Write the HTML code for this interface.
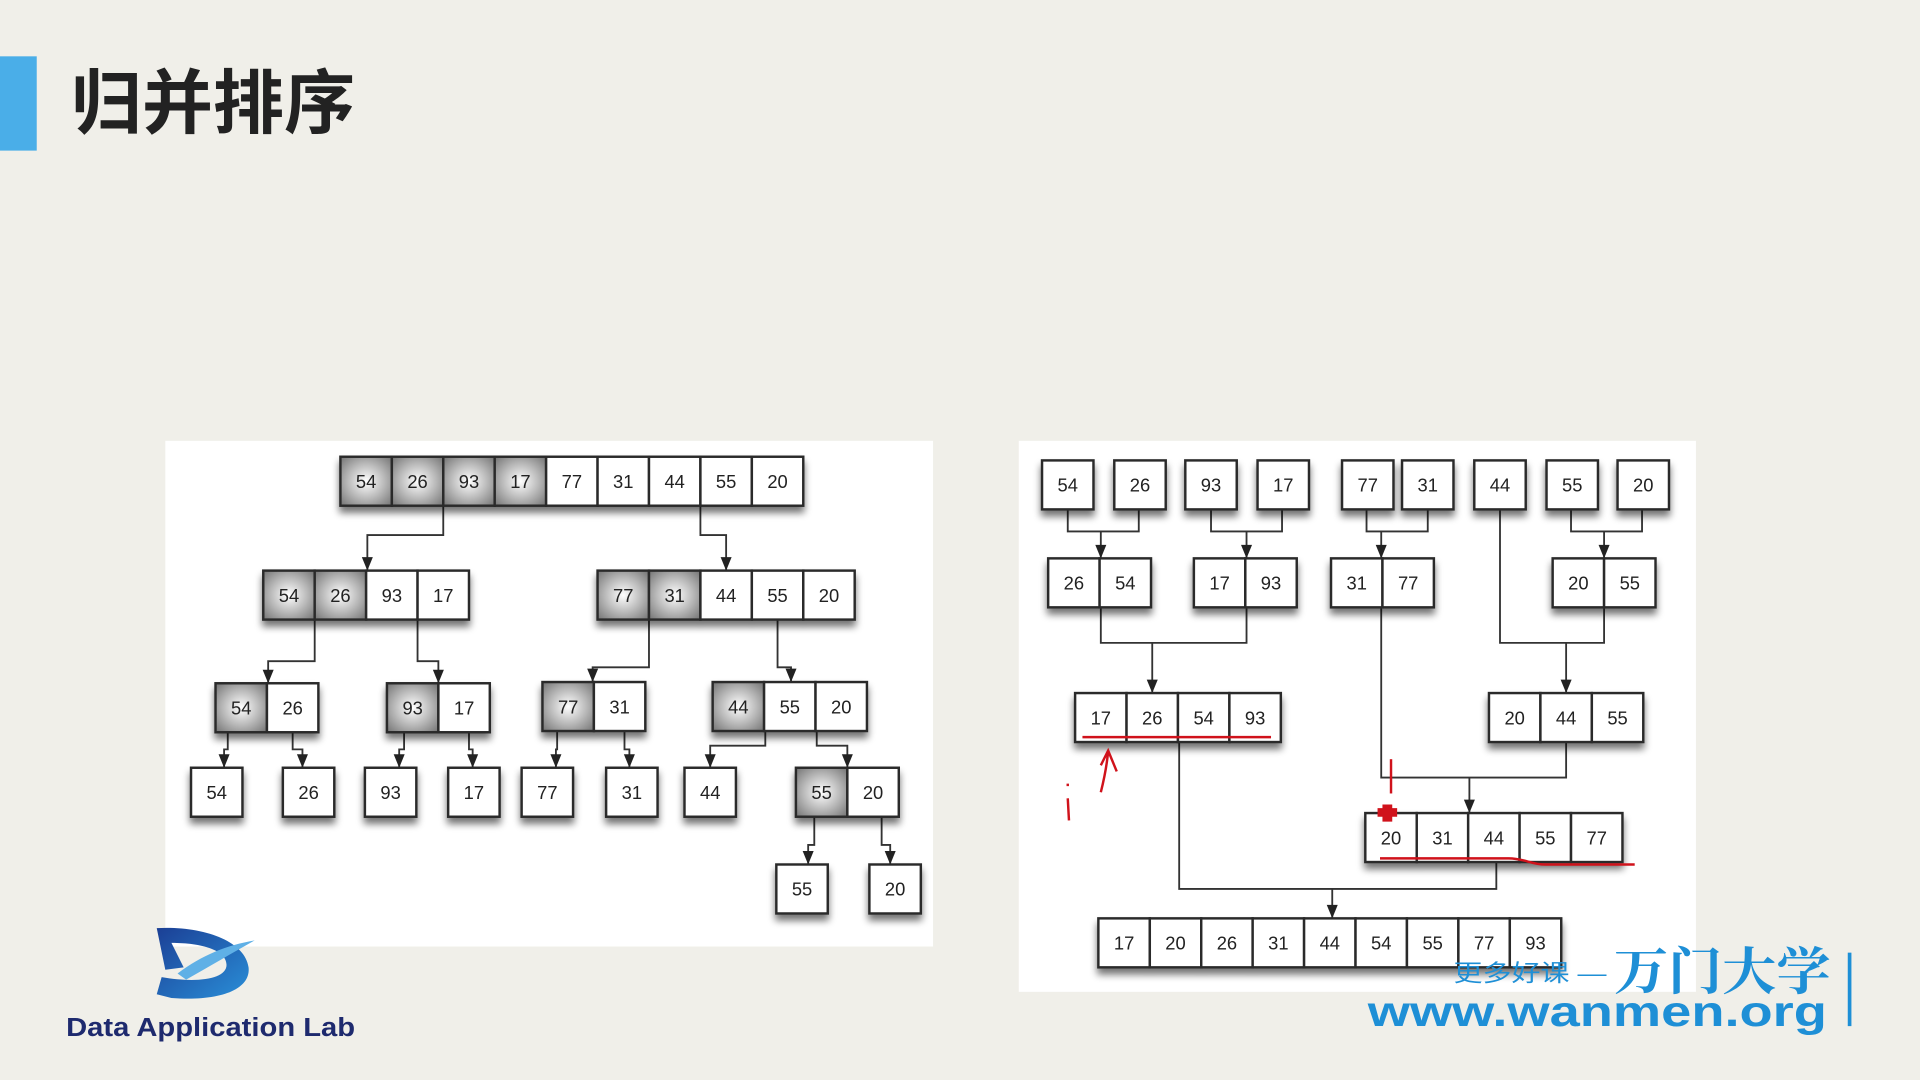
<!DOCTYPE html>
<html><head><meta charset="utf-8"><style>
html,body{margin:0;padding:0;background:#f0efe9;}
svg{display:block;}
</style></head><body>
<svg id="s" width="1920" height="1080" viewBox="0 0 1568 882" xmlns="http://www.w3.org/2000/svg">
<defs>
<radialGradient id="sh" cx="50%" cy="50%" r="65%"><stop offset="0" stop-color="#ffffff"/><stop offset="0.55" stop-color="#b9b9b9"/><stop offset="1" stop-color="#7d7d7d"/></radialGradient>
<filter id="ds" x="-20%" y="-20%" width="140%" height="160%"><feGaussianBlur in="SourceAlpha" stdDeviation="3"/><feOffset dx="0" dy="5"/><feComponentTransfer><feFuncA type="linear" slope="0.55"/></feComponentTransfer><feMerge><feMergeNode/><feMergeNode in="SourceGraphic"/></feMerge></filter>
<linearGradient id="lg" x1="0" y1="0" x2="1" y2="1"><stop offset="0" stop-color="#1b3f95"/><stop offset="1" stop-color="#2a8fd8"/></linearGradient>
</defs>
<rect x="0" y="46" width="30" height="77" fill="#4aaee8"/>
<text x="58" y="104" textLength="232" lengthAdjust="spacingAndGlyphs" font-family="'Liberation Sans','Noto Sans CJK SC',sans-serif" font-weight="bold" font-size="57" fill="#222">归并排序</text>
<rect x="135" y="360" width="627" height="413" fill="#fff"/>
<rect x="832" y="360" width="553" height="450" fill="#fff"/>
<g id="lines" fill="none" stroke="#333" stroke-width="1.5"></g>
<g id="heads" fill="#222"></g>
<g id="cells"></g>
<g id="red" fill="none" stroke="#d0121b" stroke-width="2">
<path d="M884 602 L1038 602"/>
<path d="M899 647 C902 635 904 625 905 613 M899 625 L905 613 L912 630"/>
<path d="M872 640 L872 642 M872 652 L873 670"/>
<path d="M1136 620 L1136 648"/>
<path d="M1127 701 L1232 701 C1245 701 1250 706 1262 706 L1335 706"/>
</g>
<path d="M1129 657h8v3h4v7h-4v4h-8v-4h-4v-7h4z" fill="#d0121b"/>
<g>
<path d="M128 758 C165 756 200 768 203 790 C205 808 180 818 140 815 L128 812 L132 798 C160 803 185 800 185 788 C185 776 165 770 140 770 L150 790 L135 792 Z" fill="url(#lg)"/>
<path d="M145 795 C165 780 185 772 208 768 C190 778 170 790 152 800 Z" fill="#5fb0e6"/>
<text x="54" y="846" textLength="236" lengthAdjust="spacingAndGlyphs" font-family="'Liberation Sans',sans-serif" font-weight="bold" font-size="21" fill="#1e2a6e">Data Application Lab</text>
</g>
<g fill="#1e8fd6">
<text x="1187" y="801" textLength="125" lengthAdjust="spacingAndGlyphs" font-family="'Liberation Sans','Noto Sans CJK SC',sans-serif" font-size="19">更多好课 —</text>
<text x="1318" y="808" textLength="177" lengthAdjust="spacingAndGlyphs" font-family="'Liberation Sans','Noto Serif CJK SC',serif" font-weight="bold" font-size="42">万门大学</text>
<text x="1117" y="838" textLength="375" lengthAdjust="spacingAndGlyphs" font-family="'Liberation Sans',sans-serif" font-weight="bold" font-size="35">www.wanmen.org</text>
<rect x="1509" y="778" width="3" height="60"/>
</g>
</svg>
<script>
const splitVals = [[54,26,93,17,77,31,44,55,20],[54,26,93,17],[77,31,44,55,20],[54,26],[93,17],[77,31],[44,55,20],[54],[26],[93],[17],[77],[31],[44],[55,20],[55],[20]];
const splitShade = [[1,1,1,1,0,0,0,0,0],[1,1,0,0],[1,1,0,0,0],[1,0],[1,0],[1,0],[1,0,0],[0],[0],[0],[0],[0],[0],[0],[1,0],[0],[0]];
const splitX = [278,215,488,176,316,443,582,156,231,298,366,426,495,559,650,634,710];
const splitY = [373,466,466,558,558,557,557,627,627,627,627,627,627,627,627,706,706];
const mergeVals = [[54],[26],[93],[17],[77],[31],[44],[55],[20],[26,54],[17,93],[31,77],[20,55],[17,26,54,93],[20,44,55],[20,31,44,55,77],[17,20,26,31,44,54,55,77,93]];
const mergeX = [851,910,968,1027,1096,1145,1204,1263,1321,856,975,1087,1268,878,1216,1115,897];
const mergeY = [376,376,376,376,376,376,376,376,376,456,456,456,456,566,566,664,750];
const CW=42, CH=40;
const NS='http://www.w3.org/2000/svg';
const cells=document.getElementById('cells'), lines=document.getElementById('lines'), heads=document.getElementById('heads');
function group(vals, shade, x, y, name){
  const g=document.createElementNS(NS,'g');
  
  
  g.setAttribute('filter','url(#ds)');
  vals.forEach((v,i)=>{
    const r=document.createElementNS(NS,'rect');
    r.setAttribute('x',x+i*CW);r.setAttribute('y',y);r.setAttribute('width',CW);r.setAttribute('height',CH);
    r.setAttribute('fill',shade&&shade[i]?'url(#sh)':'#fff');r.setAttribute('stroke','#2a2a2a');r.setAttribute('stroke-width','2');
    
    
    g.appendChild(r);
    const t=document.createElementNS(NS,'text');
    t.setAttribute('x',x+i*CW+CW/2);t.setAttribute('y',y+CH/2+5.5);t.setAttribute('text-anchor','middle');
    t.setAttribute('font-family','Liberation Sans, sans-serif');t.setAttribute('font-size','15');t.setAttribute('fill','#222');
    t.textContent=v;
    
    
    g.appendChild(t);
  });
  cells.appendChild(g);
}
splitVals.forEach((v,i)=>group(v,splitShade[i],splitX[i],splitY[i],'split-group-'+i));
mergeVals.forEach((v,i)=>group(v,null,mergeX[i],mergeY[i],'merge-group-'+i));
function path(d,arrow,name){
  const p=document.createElementNS(NS,'path');
  p.setAttribute('d',d);
  
  
  lines.appendChild(p);
  if(arrow){
    const nums=d.match(/-?\d+(\.\d+)?/g).map(Number);
    // last segment is V y; find x from last H or M
    const m=d.match(/([MH])\s*(-?\d+)(?:\s+(-?\d+))?(?!.*[MH])/);
    const x=Number(m[2]); const y=nums[nums.length-1];
    const h=document.createElementNS(NS,'polygon');
    h.setAttribute('points',(x-4.5)+','+(y-11)+' '+(x+4.5)+','+(y-11)+' '+x+','+y);
    
    
    heads.appendChild(h);
  }
}
path('M362 413 V437 H300 V466',1,'split-arrow');
path('M572 413 V437 H593 V466',1,'split-arrow');
path('M257 506 V540 H219 V558',1,'split-arrow');
path('M341 506 V540 H358 V558',1,'split-arrow');
path('M530 506 V545 H484 V557',1,'split-arrow');
path('M635 506 V545 H646 V557',1,'split-arrow');
path('M186 598 V612 H183 V627',1,'split-arrow');
path('M239 598 V612 H247 V627',1,'split-arrow');
path('M330 598 V612 H326 V627',1,'split-arrow');
path('M383 598 V612 H386 V627',1,'split-arrow');
path('M455 597 V612 H454 V627',1,'split-arrow');
path('M510 597 V612 H514 V627',1,'split-arrow');
path('M625 597 V609 H580 V627',1,'split-arrow');
path('M667 597 V609 H692 V627',1,'split-arrow');
path('M665 667 V690 H660 V706',1,'split-arrow');
path('M720 667 V690 H727 V706',1,'split-arrow');
path('M872 416 V434 H930 V416',0,'merge-line');path('M899 434 V456',1,'merge-arrow');
path('M989 416 V434 H1047 V416',0,'merge-line');path('M1018 434 V456',1,'merge-arrow');
path('M1116 416 V434 H1166 V416',0,'merge-line');path('M1128 434 V456',1,'merge-arrow');
path('M1283 416 V434 H1341 V416',0,'merge-line');path('M1310 434 V456',1,'merge-arrow');
path('M899 496 V525 H1018 V496',0,'merge-line');path('M941 525 V566',1,'merge-arrow');
path('M1225 416 V525 H1310 V496',0,'merge-line');path('M1279 525 V566',1,'merge-arrow');
path('M1128 496 V635 H1279 V606',0,'merge-line');path('M1200 635 V664',1,'merge-arrow');
path('M963 606 V726 H1222 V704',0,'merge-line');path('M1088 726 V750',1,'merge-arrow');
</script>
</body></html>
